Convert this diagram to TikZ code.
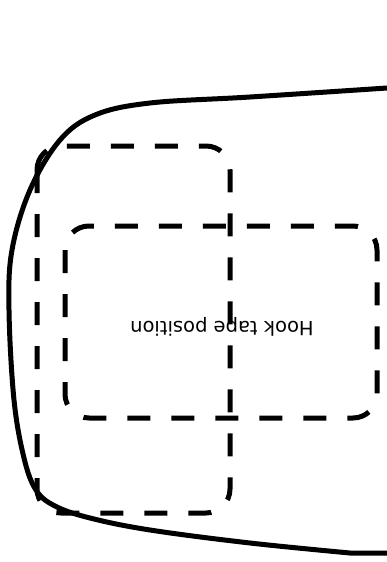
\documentclass[tikz,border=0pt]{standalone}
\usepackage{fontspec}
\setmainfont{DejaVu Sans}
\usetikzlibrary{positioning}
\tikzset{line width=5pt,
  outline/.style={draw=black,line width=5pt,line join=round},
  tapebox/.style={draw=black,line width=5pt,dash pattern=on 23pt off 21pt,rounded corners=24pt},
  label/.style={font=\fontsize{19.5}{22}\selectfont,inner sep=0pt}}
\begin{document}
\begin{tikzpicture}[x=1pt,y=-1pt]
\useasboundingbox (0,0) rectangle (387,562);
% outer edge of the part
\draw[outline] plot[smooth,tension=.6] coordinates {(387,88) (250,97) (150,103) (95,115) (60,140) (30,190) (12,250) (9,310) (14,400) (24,458) (36,490) (55,506) (90,518) (150,530) (250,543) (350,553)} -- (387,553);
% tape areas
\draw[tapebox] (37,146) rectangle (230,513);
\draw[tapebox] (65,226) rectangle (377,418);
\node[label,rotate=180] (hook) at (222,327) {Hook tape position};
\end{tikzpicture}
\end{document}
